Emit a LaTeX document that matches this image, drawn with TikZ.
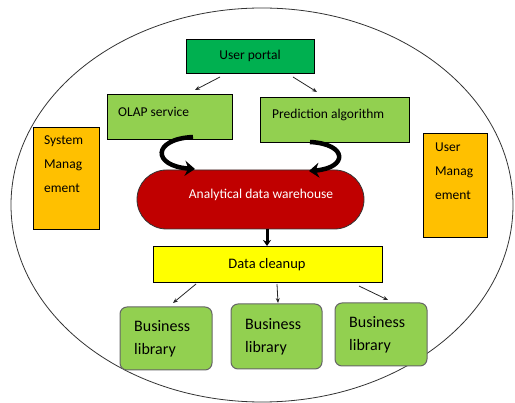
\documentclass[tikz,border=0pt]{standalone}
\usepackage{fontspec}
\setmainfont{Carlito}
\usetikzlibrary{arrows.meta}
\definecolor{portalgreen}{HTML}{00B050}
\definecolor{leafgreen}{HTML}{92D050}
\definecolor{mgmtorange}{HTML}{FFC000}
\definecolor{dwred}{HTML}{C00000}
\definecolor{cleanyellow}{HTML}{FFFF00}
\tikzset{
  box/.style={draw=black, line width=0.8pt, inner sep=0pt},
  libbox/.style={draw=black!60, line width=1pt, rounded corners=7pt, fill=leafgreen, inner sep=0pt, minimum width=92pt, minimum height=63pt},
  txt/.style={inner sep=0pt, font=\fontsize{13.5}{16}\selectfont},
  libtxt/.style={inner sep=0pt, anchor=west, align=left, font=\fontsize{16}{23}\selectfont},
  thin arrow/.style={draw=black!85, line width=0.8pt, -{Stealth[length=5pt,width=4pt]}},
  bend arrow/.style={draw=black, line width=4.5pt, -{Stealth[length=10pt,width=15pt]}},
}
\begin{document}
\begin{tikzpicture}[x=1pt,y=-1pt]
\useasboundingbox (0,0) rectangle (515,403);
% outer boundary
\draw[line width=0.8pt, black!80] (262,205) ellipse [x radius=251, y radius=197];

% top tier
\node[box, fill=portalgreen, minimum width=128pt, minimum height=34pt] (portal) at (250,56) {};
\node[txt] at (portal.center) {User portal};

\node[box, fill=leafgreen, minimum width=125pt, minimum height=45pt] (olap) at (169.5,116.5) {};
\node[txt, anchor=west] at (118,112) {OLAP service};

\node[box, fill=leafgreen, minimum width=149pt, minimum height=45pt] (pred) at (334.5,119.5) {};
\node[txt, anchor=west] at (272,115) {Prediction algorithm};

% side panels
\node[box, fill=mgmtorange, minimum width=66pt, minimum height=102pt] (sysm) at (66,178) {};
\node[txt, anchor=north west, align=left, font=\fontsize{13.5}{24}\selectfont] at (44,136) {System\\Manag\\ement};

\node[box, fill=mgmtorange, minimum width=64pt, minimum height=104pt] (usrm) at (455,185) {};
\node[txt, anchor=north west, align=left, font=\fontsize{13.5}{24}\selectfont] at (435,143) {User\\Manag\\ement};

% warehouse
\node[draw=black!80, line width=0.8pt, fill=dwred, rounded corners=29.5pt, minimum width=227pt, minimum height=59pt, inner sep=0pt] (dw) at (250.5,199.5) {};
\node[txt, text=white] at (261,195) {Analytical data warehouse};

% cleanup
\node[box, fill=cleanyellow, minimum width=229pt, minimum height=36pt] (clean) at (267.5,264) {};
\node[txt, font=\fontsize{14.5}{16}\selectfont] at (267,265) {Data cleanup};

% business libraries
\node[libbox] (lib1) at (166,338.5) {};
\node[libtxt] at (134,338.5) {Business\\library};
\node[libbox, minimum width=91pt, minimum height=65pt] (lib2) at (276.5,336.5) {};
\node[libtxt] at (245,336.5) {Business\\library};
\node[libbox, minimum width=92pt, minimum height=63pt] (lib3) at (381,334.5) {};
\node[libtxt] at (349,334.5) {Business\\library};

% connector end points
\coordinate (p1) at (220,77);  \coordinate (p1e) at (195,90);
\coordinate (p2) at (293,77);  \coordinate (p2e) at (317,92);
\coordinate (c1) at (196,284); \coordinate (c1e) at (173,303);
\coordinate (c2) at (277,284); \coordinate (c2e) at (278,303);
\coordinate (c3) at (359,286); \coordinate (c3e) at (388,300);
\coordinate (l1) at (193,137); \coordinate (l1e) at (195,169);
\coordinate (r1) at (310,142); \coordinate (r1e) at (309,171);
\coordinate (d1) at (267,229); \coordinate (d1e) at (267,246);

% connectors
\draw[thin arrow] (p1) -- (p1e);
\draw[thin arrow] (p2) -- (p2e);
\draw[thin arrow] (c1) -- (c1e);
\draw[thin arrow] (c2) -- (c2e);
\draw[thin arrow] (c3) -- (c3e);
\draw[bend arrow] (l1) .. controls (152,139) and (152,166) .. (l1e);
\draw[bend arrow] (r1) .. controls (348,144) and (348,168) .. (r1e);
\draw[draw=black, line width=3pt, -{Stealth[length=6pt,width=8pt]}] (d1) -- (d1e);
\end{tikzpicture}
\end{document}
